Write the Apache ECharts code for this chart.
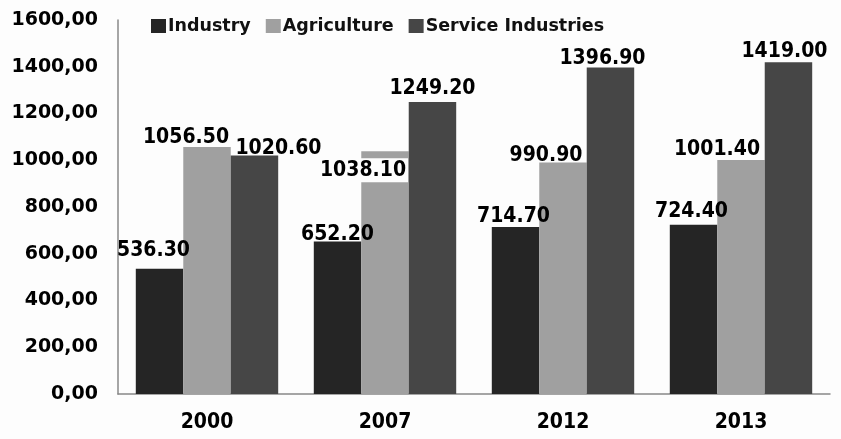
<!DOCTYPE html>
<html>
<head>
<meta charset="utf-8">
<script src="https://cdn.jsdelivr.net/npm/echarts@6/dist/echarts.min.js"></script>
<style>
html,body{margin:0;padding:0;background:#fdfdfd;}
#chart{width:841px;height:439px;}
</style>
</head>
<body>
<div id="chart"></div>
<script>
const categories = ['2000', '2007', '2012', '2013'];
const industry = [536.3, 652.2, 714.7, 724.4];
const agriculture = [1056.5, 1038.1, 990.9, 1001.4];
const services = [1020.6, 1249.2, 1396.9, 1419.0];
const seriesNames = ['Industry', 'Agriculture', 'Service Industries'];
const yTicks = { min: 0, max: 1600, interval: 200 };

// label placement tweaks (style, not data)
const labelOffsets = [
  [[-6, -8], [0, 3], [-2, 0], [-2, -3]],
  [[-21, 1], [-22, 31], [-17, 3], [-24, 0]],
  [[24, 3], [0, -3], [-8, 1], [-4, -1]]
];
// labels drawn on a white box (only where the reference shows one)
const labelBoxed = [
  [false, false, false, false],
  [false, true, false, false],
  [false, false, false, false]
];
const colors = ['#252525', '#a0a0a0', '#464646'];

const labelFont = "'DejaVu Sans Condensed', 'DejaVu Sans', Verdana, sans-serif";

function makeSeries(name, values, idx) {
  return {
    name: name,
    type: 'bar',
    barGap: '0%',
    barCategoryGap: '20%',
    itemStyle: { color: colors[idx] },
    data: values.map((v, i) => ({
      value: v,
      label: labelBoxed[idx][i]
        ? { offset: labelOffsets[idx][i], backgroundColor: '#fdfdfd', padding: [2, 2] }
        : { offset: labelOffsets[idx][i] }
    })),
    label: {
      show: true,
      position: 'top',
      distance: 0,
      color: '#000',
      fontFamily: labelFont,
      fontWeight: 'bold',
      fontSize: 21,
      lineHeight: 20,
      formatter: p => p.value.toFixed(2)
    }
  };
}

const chart = echarts.init(document.getElementById('chart'));
chart.setOption({
  backgroundColor: '#fdfdfd',
  animation: false,
  color: colors,
  legend: {
    top: 12,
    left: 146,
    itemWidth: 15,
    itemHeight: 14,
    itemGap: 15,
    icon: 'rect',
    textStyle: { fontFamily: "'DejaVu Sans', Verdana, sans-serif", fontWeight: 'bold', fontSize: 17.5, color: '#111', padding: [0, 0, 0, -3] },
    data: seriesNames
  },
  grid: { left: 118, right: 11, top: 20, bottom: 45 },
  xAxis: {
    type: 'category',
    data: categories,
    axisTick: { show: false },
    axisLine: { lineStyle: { color: '#888', width: 1.5 } },
    axisLabel: { margin: 18, color: '#000', fontFamily: labelFont, fontWeight: 'bold', fontSize: 21 }
  },
  yAxis: {
    type: 'value',
    min: yTicks.min,
    max: yTicks.max,
    interval: yTicks.interval,
    splitLine: { show: false },
    axisTick: { show: false },
    axisLine: { show: true, lineStyle: { color: '#888', width: 1.5 } },
    axisLabel: {
      margin: 20, color: '#000', fontFamily: "'DejaVu Sans', Verdana, sans-serif", fontWeight: 'bold', fontSize: 19,
      formatter: v => v.toFixed(2).replace('.', ',')
    }
  },
  series: [
    makeSeries(seriesNames[0], industry, 0),
    makeSeries(seriesNames[1], agriculture, 1),
    makeSeries(seriesNames[2], services, 2)
  ]
});
</script>
</body>
</html>
